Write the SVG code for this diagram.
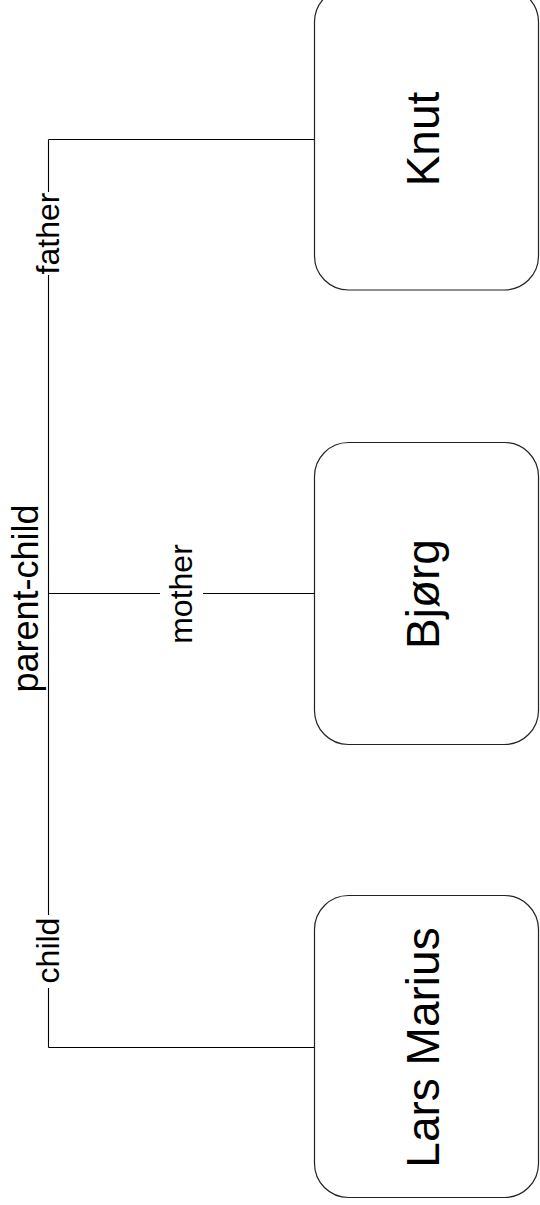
<svg xmlns="http://www.w3.org/2000/svg" width="540" height="1205" viewBox="0 0 540 1205">
<style>
.node rect{fill:#fff;stroke:#222;stroke-width:1.2}
.node text{font-family:"Liberation Sans",Arial,sans-serif;font-size:46px;fill:#000;text-anchor:middle}
.conn line{stroke:#000;stroke-width:1.1;fill:none}
.lbl{font-family:"Liberation Sans",Arial,sans-serif;font-size:32px;fill:#000;text-anchor:middle}
.bg{fill:#fff;stroke:none}
</style>
<rect width="540" height="1205" fill="#fff"/>
<g id="connectors" class="conn">
<line x1="48.5" y1="139.5" x2="48.5" y2="1047.5"/>
<line x1="48.5" y1="139.5" x2="315" y2="139.5"/>
<line x1="48.5" y1="593.5" x2="315" y2="593.5"/>
<line x1="48.5" y1="1047.5" x2="315" y2="1047.5"/>
<rect class="bg" x="34" y="192" width="30" height="83"/>
<rect class="bg" x="160" y="574" width="43" height="40"/>
<rect class="bg" x="34" y="915" width="30" height="73"/>
<text class="lbl" transform="translate(59,233.5) rotate(-90)">father</text>
<text class="lbl" transform="translate(192,594) rotate(-90)">mother</text>
<text class="lbl" transform="translate(59,950.5) rotate(-90)">child</text>
<text class="lbl" style="font-size:36px" transform="translate(37.5,598.5) rotate(-90)">parent-child</text>
</g>
<g id="knut" class="node">
<rect x="314.5" y="-12" width="224" height="302" rx="34" ry="34"/>
<text transform="translate(439,139) rotate(-90)">Knut</text>
</g>
<g id="bjorg" class="node">
<rect x="314.5" y="442.5" width="224" height="302" rx="34" ry="34"/>
<text transform="translate(439,594) rotate(-90)">Bjørg</text>
</g>
<g id="lars-marius" class="node">
<rect x="314.5" y="895.5" width="224" height="302" rx="34" ry="34"/>
<text transform="translate(439,1047.5) rotate(-90)">Lars Marius</text>
</g>
</svg>
